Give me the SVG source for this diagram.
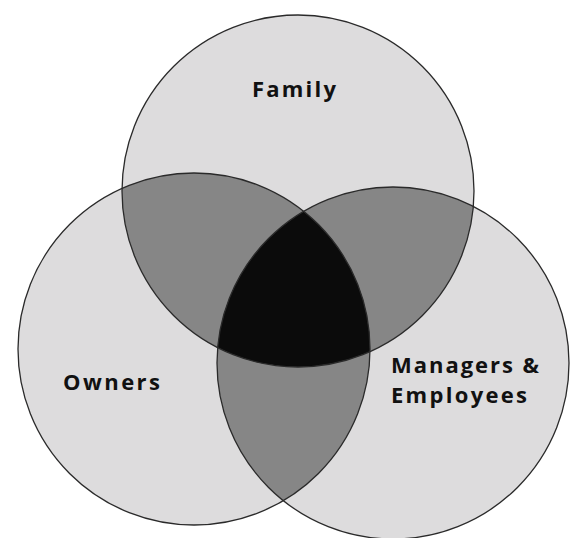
<svg xmlns="http://www.w3.org/2000/svg" width="573" height="538" viewBox="0 0 573 538">
<style>
.base{fill:#dddcdd;stroke:none}
.two{fill:#868686}
.three{fill:#0b0b0b}
.edge{fill:none;stroke:#2a2a2a;stroke-width:1.3}
.lbl{font-family:"Open Sans",Lato,"Liberation Sans",sans-serif;font-weight:bold;font-size:22px;fill:#111}
</style>
<defs>
<clipPath id="cF"><circle cx="298" cy="191" r="176"/></clipPath>
<clipPath id="cO"><circle cx="194" cy="349" r="176"/></clipPath>
<clipPath id="cM"><circle cx="393" cy="363" r="176"/></clipPath>
</defs>
<rect width="573" height="538" fill="#ffffff"/>
<g id="fills">
<circle class="base" cx="298" cy="191" r="176"/>
<circle class="base" cx="194" cy="349" r="176"/>
<circle class="base" cx="393" cy="363" r="176"/>
<g clip-path="url(#cF)"><circle class="two" cx="194" cy="349" r="176"/><circle class="two" cx="393" cy="363" r="176"/></g>
<g clip-path="url(#cO)"><circle class="two" cx="393" cy="363" r="176"/></g>
<g clip-path="url(#cF)"><g clip-path="url(#cO)"><circle class="three" cx="393" cy="363" r="176"/></g></g>
</g>
<g id="family">
<circle class="edge" cx="298" cy="191" r="176"/>
<text class="lbl" x="252" y="97" textLength="84" lengthAdjust="spacing">Family</text>
</g>
<g id="owners">
<circle class="edge" cx="194" cy="349" r="176"/>
<text class="lbl" x="63" y="390" textLength="97" lengthAdjust="spacing">Owners</text>
</g>
<g id="managers">
<circle class="edge" cx="393" cy="363" r="176"/>
<text class="lbl" x="391" y="373" textLength="148" lengthAdjust="spacing">Managers &amp;</text>
<text class="lbl" x="391" y="403" textLength="136" lengthAdjust="spacing">Employees</text>
</g>
</svg>
